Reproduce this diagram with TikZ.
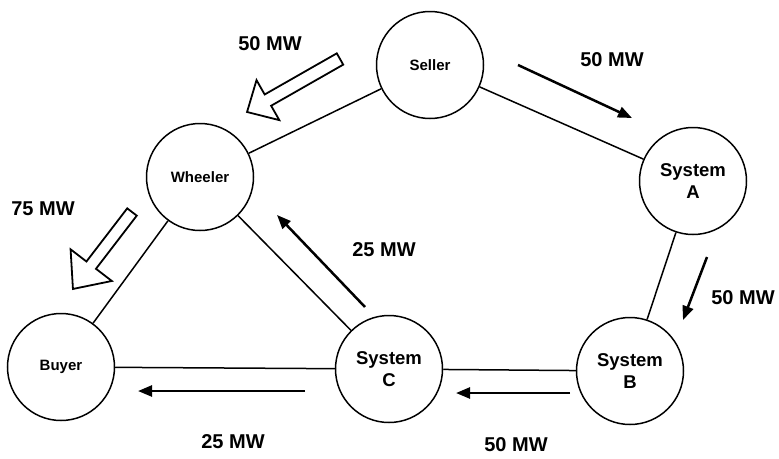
\documentclass[tikz,border=0pt]{standalone}
\usepackage{fontspec}
\setmainfont{Liberation Sans}
\usetikzlibrary{arrows.meta}
\begin{document}
\begin{tikzpicture}[x=1pt,y=-1pt,
  station/.style={circle,draw,line width=1.5pt,minimum size=107pt,inner sep=0pt,
    font=\fontsize{15}{17}\selectfont\bfseries,align=center},
  sysnode/.style={station,font=\fontsize{18.5}{22}\selectfont\bfseries},
  link/.style={line width=1.5pt},
  flow/.style={line width=2.5pt,-{Triangle[length=14pt,width=11pt]}},
  mw/.style={font=\fontsize{20}{24}\selectfont\bfseries,inner sep=1pt},
  hollow/.style={draw,line width=1.8pt,fill=white,line join=miter}]
\useasboundingbox[fill=white] (0,0) rectangle (779,458);

% stations
\node[station] (seller)  at (430,65)  {Seller};
\node[station] (wheeler) at (200,177) {Wheeler};
\node[station] (buyer)   at (61,367)  {Buyer};
\node[sysnode] (sysA)    at (693,181) {System\\A};
\node[sysnode] (sysB)    at (630,371) {System\\B};
\node[sysnode] (sysC)    at (389,369) {System\\C};

% links
\draw[link] (seller) -- (wheeler);
\draw[link] (seller) -- (sysA);
\draw[link] (sysA) -- (sysB);
\draw[link] (sysB) -- (sysC);
\draw[link] (sysC) -- (buyer);
\draw[link] (wheeler) -- (sysC);
\draw[link] (wheeler) -- (buyer);

% solid flow arrows
\coordinate (f1s) at (518,65);  \coordinate (f1e) at (632,118);
\coordinate (f2s) at (707,257); \coordinate (f2e) at (683,320);
\coordinate (f3s) at (570,393); \coordinate (f3e) at (456,393);
\coordinate (f4s) at (305,391); \coordinate (f4e) at (138,391);
\coordinate (f5s) at (365,307); \coordinate (f5e) at (277,215);
\draw[flow] (f1s) -- (f1e);
\draw[flow] (f2s) -- (f2e);
\draw[flow] (f3s) -- (f3e);
\draw[flow] (f4s) -- (f4e);
\draw[flow] (f5s) -- (f5e);

% hollow block arrows
\draw[hollow, shift={(340,59)}, rotate=209.7]
  (0,-6.5) -- (83,-6.5) -- (83,-23) -- (107,0) -- (83,23) -- (83,6.5) -- (0,6.5) -- cycle;
\draw[hollow, shift={(132,212)}, rotate=232.5]
  (0,-6) -- (67,-6) -- (67,-26) -- (97,0) -- (67,26) -- (67,6) -- (0,6) -- cycle;

% labels
\node[mw] (l1) at (270,44)  {50 MW};
\node[mw] (l2) at (612,60)  {50 MW};
\node[mw] (l3) at (43,209)  {75 MW};
\node[mw] (l4) at (384,250) {25 MW};
\node[mw] (l5) at (743,298) {50 MW};
\node[mw] (l6) at (233,442) {25 MW};
\node[mw] (l7) at (516,445) {50 MW};
\end{tikzpicture}
\end{document}
